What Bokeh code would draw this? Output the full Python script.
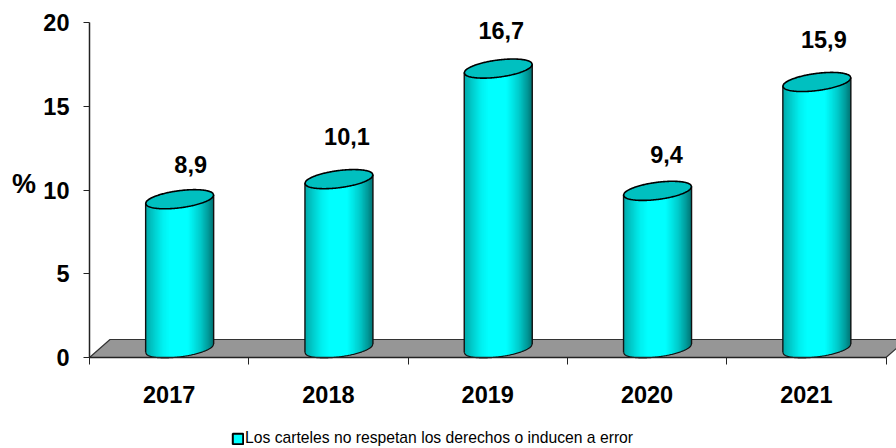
from bokeh.plotting import figure
from bokeh.models import LinearAxis, FixedTicker, Label, Legend, LegendItem, ColumnDataSource, Range1d
from bokeh.core.properties import value
from bokeh.embed import file_html
from bokeh.resources import INLINE
import numpy as np

years = ["2017", "2018", "2019", "2020", "2021"]
values = [8.9, 10.1, 16.7, 9.4, 15.9]
labels = ["8,9", "10,1", "16,7", "9,4", "15,9"]
y_ticks = [0, 5, 10, 15, 20]
legend_label = "Los carteles no respetan los derechos o inducen a error"

W, H = 896, 448
LEFT, BOTTOM = 89, 91
PX_X = 796.5 / 5
PX_Y = 335 / 20
FONT = "Liberation Sans"

p = figure(width=W, height=H, output_backend="svg", toolbar_location=None,
           x_range=Range1d(-LEFT / PX_X, (W - LEFT) / PX_X),
           y_range=Range1d(-BOTTOM / PX_Y, (H - BOTTOM) / PX_Y),
           min_border_left=0, min_border_right=0, min_border_top=0, min_border_bottom=0,
           x_axis_type=None, y_axis_type=None, outline_line_color=None, background_fill_color="white")
p.grid.visible = False

n = len(years)
xa = LinearAxis(bounds=(0, n), fixed_location=0,
                ticker=FixedTicker(ticks=[i + 0.5 for i in range(n)], minor_ticks=list(range(n + 1))),
                major_label_overrides={i + 0.5: years[i] for i in range(n)})
xa.major_tick_line_color = None
xa.minor_tick_out = 7
xa.minor_tick_in = 0
xa.minor_tick_line_color = "#222222"
xa.axis_line_color = "#222222"
xa.axis_line_width = 1.5
xa.major_label_text_font = FONT
xa.major_label_text_font_style = "bold"
xa.major_label_text_font_size = "23.5px"
xa.major_label_text_color = "black"
xa.major_label_standoff = 21
xa.level = "overlay"
p.add_layout(xa, "below")

ya = LinearAxis(bounds=(0, 20), fixed_location=0, ticker=FixedTicker(ticks=y_ticks))
ya.minor_tick_line_color = None
ya.major_tick_out = 6
ya.major_tick_in = 0
ya.major_tick_line_color = "#222222"
ya.axis_line_color = "#222222"
ya.axis_line_width = 1.5
ya.major_label_text_font = FONT
ya.major_label_text_font_style = "bold"
ya.major_label_text_font_size = "23.5px"
ya.major_label_text_color = "black"
ya.major_label_standoff = 14
p.add_layout(ya, "left")

# floor
depth_x, depth_y = 20.5 / PX_X, 18 / PX_Y
p.patch([0, depth_x, n + depth_x, n], [0, depth_y, depth_y, 0],
        fill_color="#969696", line_color="#333333", line_width=1.2)

# cylinders
half = 34 / PX_X
b = 8.6 / PX_Y
lift = 4.2 / PX_Y
shift = 10.5 / PX_X
base = 9.2 / PX_Y
stops_t = [0, 0.12, 0.25, 0.36, 0.62, 0.8, 0.92, 1]
stops_g = [170, 205, 240, 255, 255, 205, 155, 115]


def under(t):
    """lower edge of the tilted ellipse, t from -1 to 1"""
    return lift * t - b * np.sqrt(np.clip(1 - t * t, 0, 1))


def over(t):
    return lift * t + b * np.sqrt(np.clip(1 - t * t, 0, 1))


ts = np.linspace(-1, 1, 69)
fine = np.linspace(-1, 1, 81)
for i, v in enumerate(values):
    cx = i + 0.5 + shift
    xs, ys, cols = [], [], []
    for k in range(len(ts) - 1):
        t0, t1 = ts[k], min(ts[k + 1] + 0.05, 1.0)
        tm = (ts[k] + ts[k + 1]) / 2
        g = int(np.interp((tm + 1) / 2, stops_t, stops_g))
        xs.append([cx + half * t0, cx + half * t1, cx + half * t1, cx + half * t0])
        ys.append([base + under(t0), base + under(t1), base + v + lift * t1, base + v + lift * t0])
        cols.append(f"#00{g:02x}{g:02x}")
    p.patches(xs, ys, fill_color=cols, line_color=None)
    # outline of the side
    ox = cx + half * fine
    p.line(ox, base + under(fine), line_color="#111111", line_width=1.2)
    p.line([cx - half, cx - half], [base - lift, base + v - lift], line_color="#111111", line_width=1.4)
    p.line([cx + half, cx + half], [base + lift, base + v + lift], line_color="#111111", line_width=1.4)
    # top ellipse
    tx = np.concatenate([cx + half * fine, cx + half * fine[::-1]])
    ty = np.concatenate([base + v + under(fine), base + v + over(fine[::-1])])
    p.patch(tx, ty, fill_color="#00c0c0", line_color="black", line_width=1.6)

src = ColumnDataSource(dict(x=[i + 0.5 + shift for i in range(n)], y=values, t=labels,
                            dx=[11, 8, 3, 9, 7], dy=[-44, -52, -47, -46, -52]))
p.text("x", "y", text="t", source=src, x_offset="dx", y_offset="dy",
       text_font=value(FONT), text_font_style="bold", text_font_size="23.5px",
       text_color="black", text_align="center", text_baseline="middle")

# unit label
p.add_layout(Label(x=-(89 - 23.5) / PX_X, y=(357 - 183) / PX_Y, text="%", text_font=FONT,
                   text_font_style="bold", text_font_size="27px", text_color="black",
                   text_align="center", text_baseline="middle"))

# legend
dummy = p.quad(left=[-5], right=[-5], top=[-30], bottom=[-30], fill_color="#00ffff",
               line_color="black", line_width=2)
leg = Legend(items=[LegendItem(label=legend_label, renderers=[dummy])],
             location=(231, 1), orientation="horizontal",
             border_line_color=None, background_fill_alpha=0,
             padding=0, margin=0, glyph_width=13, glyph_height=13, label_standoff=1,
             label_text_font=FONT, label_text_font_size="15.7px", label_text_color="black",
             label_height=14)
p.add_layout(leg, "center")

open("out.html", "w").write(file_html(p, INLINE))
